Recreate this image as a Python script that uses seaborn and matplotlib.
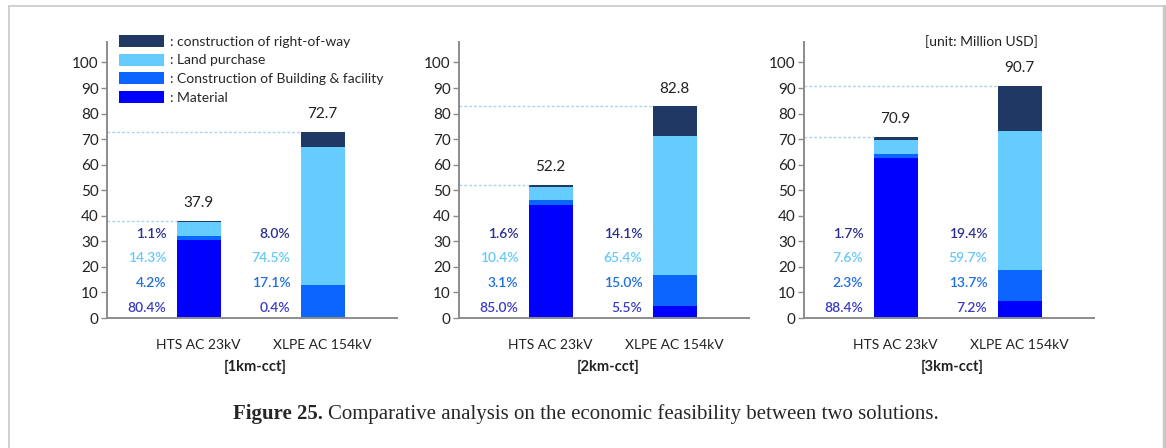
import numpy as np
import pandas as pd
import seaborn as sns
import matplotlib.pyplot as plt
import matplotlib.transforms as mtransforms
from matplotlib.patches import Patch
from matplotlib.lines import Line2D

sns.set_theme(style="white")
plt.rcParams['font.family'] = ['Lato', 'DejaVu Sans']

# data
cases = ['[1km-cct]', '[2km-cct]', '[3km-cct]']
cables = ['HTS AC 23kV', 'XLPE AC 154kV']
totals = [[37.9, 72.7], [52.2, 82.8], [70.9, 90.7]]
# share of each cost item (%), per case and cable
pct_row = [[1.1, 8.0], [1.6, 14.1], [1.7, 19.4]]
pct_land = [[14.3, 74.5], [10.4, 65.4], [7.6, 59.7]]
pct_bldg = [[4.2, 17.1], [3.1, 15.0], [2.3, 13.7]]
pct_mat = [[80.4, 0.4], [85.0, 5.5], [88.4, 7.2]]

items = [': construction of right-of-way', ': Land purchase',
         ': Construction of Building & facility', ': Material']
bar_colors = ['#1f3864', '#66ccff', '#0a66ff', '#0000ff']
txt_colors = ['#2b2f8f', '#66c8f8', '#1f6fdc', '#3a3ac4']

fig = plt.figure(figsize=(11.66, 4.48), dpi=100)
W, H = 1166, 448

ax_left = [107, 459, 804]
ax_w = 290
bar_w = 0.355
xlim = (-0.74, 1.6)
y0, y1 = 318, 42

for i, case in enumerate(cases):
    ax = fig.add_axes([ax_left[i] / W, 1 - y0 / H, ax_w / W, (y0 - y1) / H])
    df = pd.DataFrame({
        'cable': cables,
        'mat': pct_mat[i],
        'bldg': pct_bldg[i],
        'land': pct_land[i],
        'row': pct_row[i],
        'total': totals[i],
    })
    # cumulative heights in Million USD
    cum_mat = df['total'] * df['mat'] / 100
    cum_bldg = cum_mat + df['total'] * df['bldg'] / 100
    cum_land = cum_bldg + df['total'] * df['land'] / 100
    layers = [df['total'], cum_land, cum_bldg, cum_mat]
    for vals, c in zip(layers, bar_colors):
        sns.barplot(x=df['cable'], y=vals, color=c, saturation=1, width=bar_w,
                    errorbar=None, ax=ax, linewidth=0)

    ax.set_xlim(*xlim)
    ax.set_ylim(0, 108)
    ax.set_yticks(range(0, 101, 10))
    ax.set_xlabel('')
    ax.set_ylabel('')
    for s in ['top', 'right']:
        ax.spines[s].set_visible(False)
    for s in ['left', 'bottom']:
        ax.spines[s].set_color('#8c8c8c')
        ax.spines[s].set_linewidth(1.4)
    ax.tick_params(axis='y', left=True, length=4, width=1, color='#8c8c8c',
                   labelsize=11, labelcolor='#222222', pad=2)
    ax.tick_params(axis='x', bottom=False, labelsize=10, labelcolor='#222222', pad=9)

    # dotted guide lines and totals
    for j, tot in enumerate(totals[i]):
        ax.hlines(tot, xlim[0], j - bar_w / 2, colors='#a9d3f0', linestyles=(0, (2, 1.5)),
                  linewidth=1)
        ax.text(j, tot + 7, f'{tot:.1f}', ha='center', va='center', fontsize=11,
                color='#222222')
        shares = [pct_row[i][j], pct_land[i][j], pct_bldg[i][j], pct_mat[i][j]]
        for k, (p, c) in enumerate(zip(shares, txt_colors)):
            ax.text(j - 0.26, [32.8, 23.4, 13.8, 4.0][k], f'{p:.1f}%', ha='right',
                    va='center', fontsize=10, color=c, fontweight='semibold')

    tr = mtransforms.blended_transform_factory(ax.transData, fig.transFigure)
    ax.text(0.46, 1 - 367 / H, case, transform=tr, ha='center', va='center',
            fontsize=10.5, fontweight='bold', color='#222222')

    if i == 0:
        handles = [Patch(facecolor=c, edgecolor='none') for c in bar_colors]
        ax.legend(handles, items, loc='upper left', bbox_to_anchor=(119 / W, 1 - 35 / H),
                  bbox_transform=fig.transFigure, frameon=False, fontsize=10,
                  handlelength=3.25, handleheight=0.95, handletextpad=0.4,
                  labelspacing=0.42, borderpad=0, borderaxespad=0)
    if i == 2:
        fig.text(981 / W, 1 - 42 / H, '[unit: Million USD]', ha='center', va='center',
                 fontsize=10, color='#222222')

# caption
cap_y = 1 - 414 / H
t1 = fig.text(233 / W, cap_y, 'Figure 25.', ha='left', va='center', fontsize=15,
              fontweight='bold', family='Liberation Serif')
fig.canvas.draw()
bb = t1.get_window_extent(fig.canvas.get_renderer())
fig.text(bb.x1 / W + 5 / W, cap_y,
         'Comparative analysis on the economic feasibility between two solutions.',
         ha='left', va='center', fontsize=15, family='Liberation Serif')

# frame
px = fig.dpi_scale_trans + mtransforms.Affine2D().scale(1 / 100)
fig.add_artist(Line2D([9, 9], [0, H - 6], color='#c8c8c8', lw=1.2, transform=px))
fig.add_artist(Line2D([9, 1164], [H - 6, H - 6], color='#c8c8c8', lw=1.2, transform=px))
fig.add_artist(Line2D([1164, 1164], [0, H - 6], color='#c8c8c8', lw=2.5, transform=px))

fig.savefig('out.png', dpi=100)
